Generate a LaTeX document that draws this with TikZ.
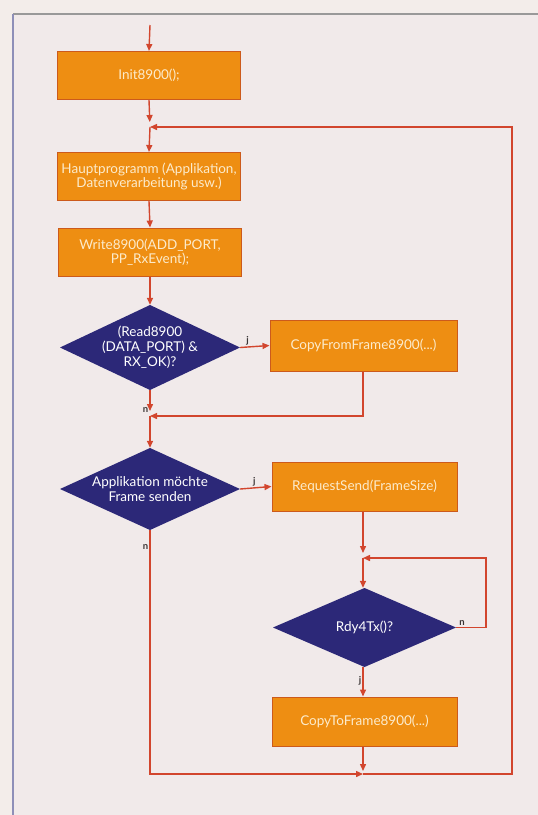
\documentclass[tikz,border=0pt]{standalone}
\usepackage{fontspec}
\setmainfont{Lato}
\usetikzlibrary{arrows.meta}
\definecolor{paper}{HTML}{F3EDEA}
\definecolor{inner}{HTML}{F1EAEA}
\definecolor{frameline}{HTML}{8E8FB8}
\definecolor{boxfill}{HTML}{EE8E12}
\definecolor{boxedge}{HTML}{CC5A1C}
\definecolor{navy}{HTML}{2C2878}
\definecolor{wire}{HTML}{D2462E}
\definecolor{boxtext}{HTML}{FCEBCB}
\definecolor{lbl}{HTML}{3A3535}
\tikzset{
  procbox/.style={rectangle, draw=boxedge, line width=1pt, fill=boxfill,
    text=boxtext, font=\fontsize{13.5}{14.5}\selectfont, align=center,
    minimum width=183pt, minimum height=48pt, inner sep=1pt},
  decide/.style={rectangle, text=white,
    font=\fontsize{13.5}{15}\selectfont, align=center,
    minimum width=180pt, minimum height=84pt, inner sep=0pt,
    path picture={\fill[navy] (path picture bounding box.north) --
      (path picture bounding box.east) -- (path picture bounding box.south) --
      (path picture bounding box.west) -- cycle;}},
  flow/.style={draw=wire, line width=1.4pt,
    -{Triangle[length=7pt,width=6pt]}},
  tag/.style={text=lbl, font=\fontsize{9.5}{10}\selectfont\bfseries, inner sep=1pt}
}
\begin{document}
\begin{tikzpicture}[x=1pt,y=-1pt]
\useasboundingbox (0,0) rectangle (538,815);
\fill[paper] (0,0) rectangle (538,815);
\fill[inner] (13,14) rectangle (538,815);
\draw[color=gray!80, line width=1.2pt] (13,14) -- (538,14);
\draw[color=frameline, line width=1.6pt] (13,14) -- (13,815);

% nodes
\node[procbox] (init) at (149,75.5) {Init8900();};
\node[procbox] (haupt) at (149,176.5) {Hauptprogramm (Applikation,\\Datenverarbeitung usw.)};
\node[procbox] (write) at (150,252) {Write8900(ADD\_PORT,\\PP\_RxEvent);};
\node[decide, minimum height=85pt] (d1) at (150,347.5) {(Read8900\\(DATA\_PORT) \&\\RX\_OK)?};
\node[procbox, minimum width=187pt, minimum height=51pt] (cfrom) at (363.5,345.5) {CopyFromFrame8900(...)};
\node[decide, minimum height=82pt] (d2) at (150,489) {Applikation möchte\\Frame senden};
\node[procbox, minimum width=185pt, minimum height=49pt] (rsend) at (364.5,486.5) {RequestSend(FrameSize)};
\node[decide, minimum width=183pt, minimum height=79pt] (d3) at (364.5,627.5) {Rdy4Tx()?};
\node[procbox, minimum width=185pt, minimum height=49pt] (cto) at (364.5,721.5) {CopyToFrame8900(...)};

% junction points
\coordinate (top) at (150,25);
\coordinate (m1) at (150,127);
\coordinate (m2) at (150,416);
\coordinate (m3) at (363,558);
\coordinate (m4) at (363,774);
\coordinate (c1) at (363,416);
\coordinate (bl) at (150,774);
\coordinate (br) at (512,774);
\coordinate (tr) at (512,127);
\coordinate (r3a) at (486,627.5);
\coordinate (r3b) at (486,558);

% connectors
\draw[flow] (top) -- (init.north);
\draw[flow, shorten >=5pt] (init.south) -- (m1);
\draw[flow] (m1) -- (haupt.north);
\draw[flow] (haupt.south) -- (write.north);
\draw[flow] (write.south) -- (d1.north);
\draw[flow] (d1.east) -- node[tag, above, pos=0.25] {j} (cfrom.west);
\draw[flow] (cfrom.south -| c1) -- (c1) -- (m2);
\draw[flow, shorten >=5pt] (d1.south) -- node[tag, left, pos=0.75] {n} (m2);
\draw[flow] (m2) -- (d2.north);
\draw[flow] (d2.east) -- node[tag, above, pos=0.45] {j} (rsend.west);
\draw[flow, shorten >=5pt] (rsend.south -| m3) -- (m3);
\draw[flow] (m3) -- (d3.north -| m3);
\draw[flow] (d3.east) -- node[tag, above right, pos=0.05] {n} (r3a) -- (r3b) -- (m3);
\draw[flow] (d3.south -| m3) -- node[tag, left, pos=0.45] {j} (cto.north -| m3);
\draw[flow, shorten >=3pt] (cto.south -| m4) -- (m4);
\draw[flow] (d2.south) -- node[tag, left, pos=0.07] {n} (bl) -- (m4);
\draw[flow] (m4) -- (br) -- (tr) -- (m1);
\end{tikzpicture}
\end{document}
